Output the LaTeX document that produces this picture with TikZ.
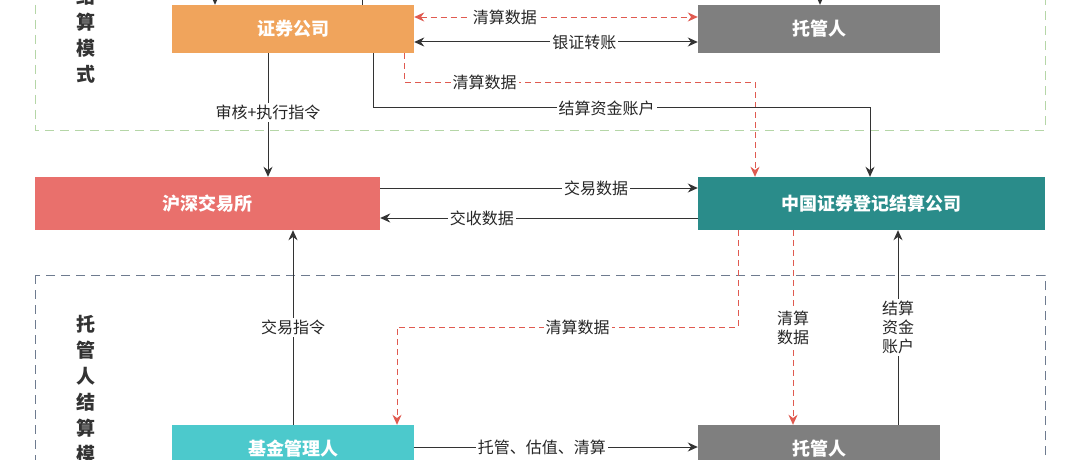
\documentclass[tikz,border=0pt]{standalone}
\usepackage{fontspec}
\setmainfont{Noto Sans CJK SC}
\usetikzlibrary{arrows.meta, positioning}
\definecolor{boxorange}{HTML}{F0A45C}
\definecolor{boxgray}{HTML}{7F7F7F}
\definecolor{boxred}{HTML}{E9706C}
\definecolor{boxteal}{HTML}{2A8C8A}
\definecolor{boxcyan}{HTML}{4CC9CC}
\definecolor{linered}{HTML}{E05A50}
\definecolor{zonegreen}{HTML}{B5D6A7}
\definecolor{zoneblue}{HTML}{6E7B8F}

\tikzset{
  unit/.style={draw=none, text=white, font=\bfseries\fontsize{18}{18}\selectfont, inner sep=0pt},
  lbl/.style={fill=white, inner sep=2pt, font=\fontsize{16}{19}\selectfont, text=black!85},
  solidarr/.style={-{Stealth[length=10pt,width=9pt]}, black!80, line width=1pt},
  dasharr/.style={-{Stealth[length=10pt,width=9pt]}, linered, dashed, dash pattern=on 6pt off 4pt, line width=0.9pt},
}

\begin{document}
\begin{tikzpicture}[x=1pt, y=-1pt]
\useasboundingbox (0,0) rectangle (1080,460);
\clip (0,0) rectangle (1080,460);
\fill[white] (0,0) rectangle (1080,460);

%% zones
\draw[zonegreen, dashed, dash pattern=on 9pt off 6pt, line width=1pt] (35,-40) rectangle (1045,130);
\draw[zoneblue, dashed, dash pattern=on 9pt off 6pt, line width=1pt] (35,275) rectangle (1045,520);
\node[font=\bfseries\fontsize{19}{26}\selectfont, align=center, text=black!80] (zoneA) at (86,35) {结\\算\\模\\式};
\node[font=\bfseries\fontsize{19}{26}\selectfont, align=center, anchor=north, text=black!80] (zoneB) at (86,312) {托\\管\\人\\结\\算\\模\\式};

%% units
\node[unit, fill=boxorange, minimum width=242pt, minimum height=48pt] (broker) at (293,29) {证券公司};
\node[unit, fill=boxgray, minimum width=242pt, minimum height=48pt] (custA) at (819,29) {托管人};
\node[unit, fill=boxred, minimum width=345pt, minimum height=53pt] (exch) at (207.5,203.5) {沪深交易所};
\node[unit, fill=boxteal, minimum width=347pt, minimum height=53pt] (csdc) at (871.5,203.5) {中国证券登记结算公司};
\node[unit, fill=boxcyan, minimum width=242pt, minimum height=48pt] (fund) at (293,449) {基金管理人};
\node[unit, fill=boxgray, minimum width=242pt, minimum height=48pt] (custB) at (819,449) {托管人};

%% upper zone
\draw[solidarr] (215,-30) -- (215,0 |- broker.north);
\draw[black!80, line width=1pt] (362,0 |- broker.north) -- (362,-30);
\draw[solidarr] (820,-30) -- (820,0 |- custA.north);
\draw[dasharr, {Stealth[length=10pt,width=9pt]}-{Stealth[length=10pt,width=9pt]}] (broker.east |- 0,17) -- node[lbl, pos=0.32] {清算数据} (custA.west |- 0,17);
\draw[solidarr, {Stealth[length=10pt,width=9pt]}-{Stealth[length=10pt,width=9pt]}] (broker.east |- 0,42) -- node[lbl, pos=0.6] {银证转账} (custA.west |- 0,42);
\draw[dasharr] (404,0 |- broker.south) -- (404,82) -- node[lbl, pos=0.23] {清算数据} (755,82) -- (755,0 |- csdc.north);
\draw[solidarr] (373,0 |- broker.south) -- (373,108) -- node[lbl, pos=0.47] {结算资金账户} (870,108) -- (870,0 |- csdc.north);
\draw[solidarr] (268,0 |- broker.south) -- node[lbl, pos=0.48] {审核+执行指令} (268,0 |- exch.north);

%% middle
\draw[solidarr] (exch.east |- 0,188) -- node[lbl, pos=0.68] {交易数据} (csdc.west |- 0,188);
\draw[solidarr] (csdc.west |- 0,218) -- node[lbl, pos=0.68] {交收数据} (exch.east |- 0,218);

%% lower zone
\draw[solidarr] (293,0 |- fund.north) -- node[lbl, pos=0.5] {交易指令} (293,0 |- exch.south);
\draw[dasharr] (738,0 |- csdc.south) -- (738,327) -- node[lbl, pos=0.47] {清算数据} (397,327) -- (397,0 |- fund.north);
\draw[dasharr] (793,0 |- csdc.south) -- node[lbl, align=center, pos=0.5] {清算\\数据} (793,0 |- custB.north);
\draw[solidarr] (898,0 |- custB.north) -- node[lbl, align=center, pos=0.5] {结算\\资金\\账户} (898,0 |- csdc.south);
\draw[solidarr] (fund.east |- 0,447) -- node[lbl, pos=0.45] {托管、估值、清算} (custB.west |- 0,447);
\end{tikzpicture}
\end{document}
